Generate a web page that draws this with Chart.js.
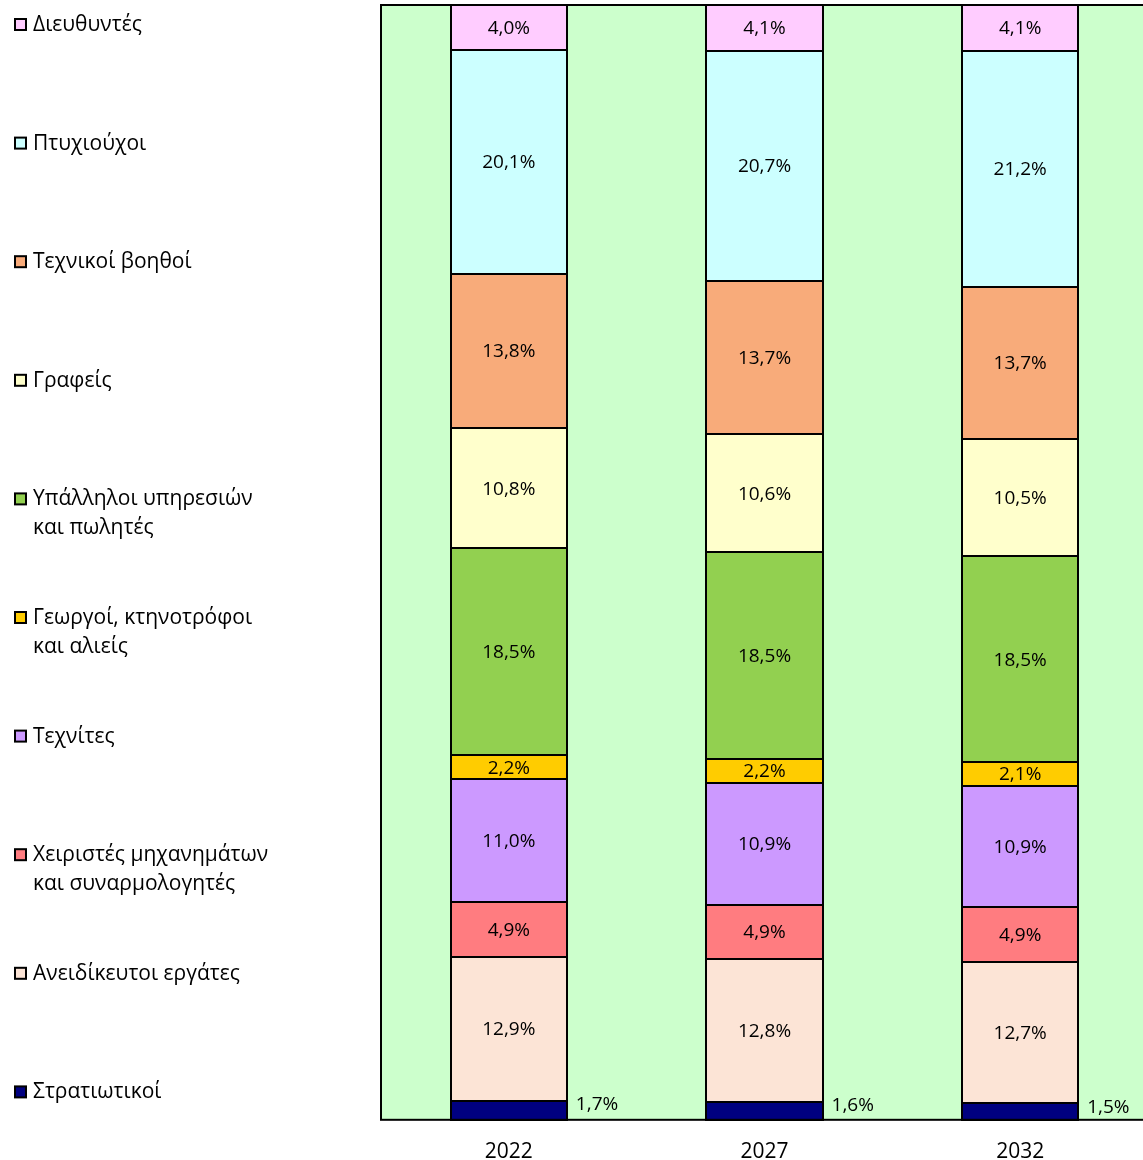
<!DOCTYPE html>
<html>
<head>
<meta charset="utf-8">
<script src="https://cdn.jsdelivr.net/npm/chart.js@4.4.0/dist/chart.umd.min.js"></script>
<style>
  html, body { margin: 0; padding: 0; background: #fff; overflow: hidden; }
  #wrap { width: 1143px; height: 1160px; overflow: hidden; }
</style>
</head>
<body>
<div id="wrap"><canvas id="chart" width="1148" height="1185"></canvas></div>
<script>
const years = ['2022', '2027', '2032'];

// bottom to top, as stacked
const seriesNames = [
  'Στρατιωτικοί',
  'Ανειδίκευτοι εργάτες',
  ['Χειριστές μηχανημάτων', 'και συναρμολογητές'],
  'Τεχνίτες',
  ['Γεωργοί, κτηνοτρόφοι', 'και αλιείς'],
  ['Υπάλληλοι υπηρεσιών', 'και πωλητές'],
  'Γραφείς',
  'Τεχνικοί βοηθοί',
  'Πτυχιούχοι',
  'Διευθυντές'
];

const stratiotikoi = [1.7, 1.6, 1.5];
const aneidikeutoi = [12.9, 12.8, 12.7];
const xeiristes = [4.9, 4.9, 4.9];
const texnites = [11.0, 10.9, 10.9];
const georgoi = [2.2, 2.2, 2.1];
const ypalliloi = [18.5, 18.5, 18.5];
const grafeis = [10.8, 10.6, 10.5];
const texnikoi = [13.8, 13.7, 13.7];
const ptyxiouxoi = [20.1, 20.7, 21.2];
const dieuthyntes = [4.0, 4.1, 4.1];

const seriesValues = [stratiotikoi, aneidikeutoi, xeiristes, texnites, georgoi,
  ypalliloi, grafeis, texnikoi, ptyxiouxoi, dieuthyntes];

const colors = ['#000080', '#FCE4D6', '#FF7C80', '#CC99FF', '#FFCC00',
  '#92D050', '#FFFFCC', '#F8AB7A', '#CCFFFF', '#FFCCFF'];

const FONT = '"Open Sans", "Noto Sans", sans-serif';

// totals per year so the stack fills 100%
const totals = years.map((y, i) => seriesValues.reduce((s, v) => s + v[i], 0));

const datasets = seriesValues.map((vals, k) => ({
  label: Array.isArray(seriesNames[k]) ? seriesNames[k].join(' ') : seriesNames[k],
  data: vals.map((v, i) => v / totals[i] * 100),
  raw: vals,
  backgroundColor: colors[k],
  borderWidth: 0,
  categoryPercentage: 1,
  barPercentage: 0.454
}));

const fmt = v => v.toFixed(1).replace('.', ',') + '%';

const plotFrame = {
  id: 'plotFrame',
  beforeDatasetsDraw(chart) {
    const { ctx, chartArea: a } = chart;
    ctx.save();
    ctx.fillStyle = '#CCFFCC';
    ctx.fillRect(a.left, a.top, a.right - a.left, a.bottom - a.top);
    ctx.restore();
  },
  afterDatasetsDraw(chart) {
    const { ctx, chartArea: a } = chart;
    ctx.save();

    // segment outlines
    ctx.strokeStyle = '#000';
    ctx.lineWidth = 2;
    chart.data.datasets.forEach((ds, k) => {
      chart.getDatasetMeta(k).data.forEach(bar => {
        const x0 = Math.round(bar.x - bar.width / 2);
        const x1 = Math.round(bar.x + bar.width / 2);
        const y0 = Math.round(bar.y), y1 = Math.round(bar.base);
        ctx.strokeRect(x0, y0, x1 - x0, y1 - y0);
      });
    });

    ctx.strokeRect(a.left, a.top, a.right - a.left, a.bottom - a.top);

    // value labels
    ctx.fillStyle = '#000';
    ctx.font = '19px ' + FONT;
    ctx.textBaseline = 'middle';
    chart.data.datasets.forEach((ds, k) => {
      const meta = chart.getDatasetMeta(k);
      meta.data.forEach((bar, i) => {
        const txt = fmt(ds.raw[i]);
        if (k === 0) {
          ctx.textAlign = 'left';
          ctx.fillText(txt, bar.x + bar.width / 2 + 9, bar.y + 4);
        } else {
          ctx.textAlign = 'center';
          ctx.fillText(txt, bar.x, (bar.y + bar.base) / 2 + 1);
        }
      });
    });

    // legend on the left, top series first
    ctx.font = '21px ' + FONT;
    ctx.textAlign = 'left';
    for (let n = 0; n < seriesNames.length; n++) {
      const k = seriesNames.length - 1 - n;
      const yc = 25 + n * 118.6;
      ctx.fillStyle = colors[k];
      ctx.fillRect(15, yc - 6, 11, 11);
      ctx.lineWidth = 2;
      ctx.strokeStyle = '#000';
      ctx.strokeRect(15, yc - 6, 11, 11);
      ctx.fillStyle = '#000';
      const lines = Array.isArray(seriesNames[k]) ? seriesNames[k] : [seriesNames[k]];
      lines.forEach((ln, j) => ctx.fillText(ln, 33, yc + j * 29));
    }
    ctx.restore();
  }
};

new Chart(document.getElementById('chart'), {
  type: 'bar',
  data: { labels: years, datasets },
  options: {
    responsive: false,
    animation: false,
    layout: { padding: { left: 381, top: 5, right: 0, bottom: 0 } },
    plugins: { legend: { display: false }, tooltip: { enabled: false } },
    scales: {
      x: {
        stacked: true,
        grid: { display: false, drawTicks: false },
        border: { display: false },
        ticks: { color: '#000', font: { size: 21, family: FONT }, padding: 20 }
      },
      y: {
        stacked: true,
        display: false,
        min: 0,
        max: 100
      }
    }
  },
  plugins: [plotFrame]
});
</script>
</body>
</html>
